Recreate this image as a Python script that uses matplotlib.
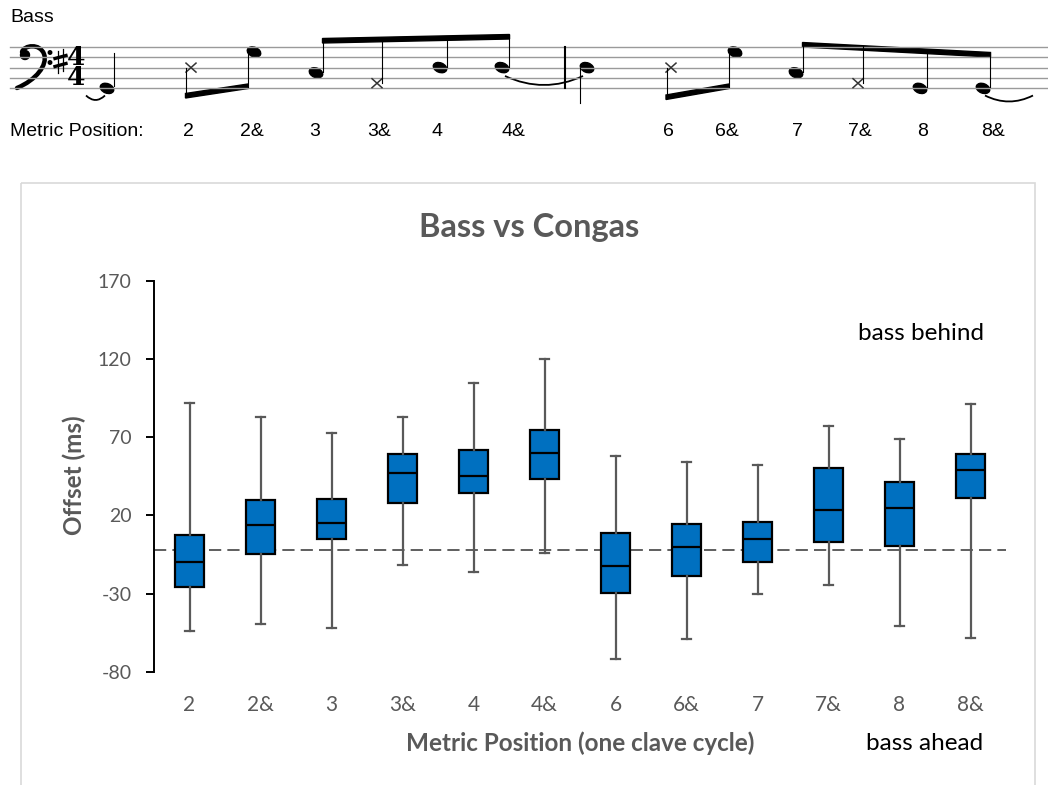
import matplotlib
matplotlib.use("Agg")
import matplotlib.pyplot as plt
from matplotlib.patches import Ellipse, Polygon, Rectangle, PathPatch
from matplotlib.path import Path

plt.rcParams['axes.unicode_minus'] = False

# data
categories = ['2', '2&', '3', '3&', '4', '4&', '6', '6&', '7', '7&', '8', '8&']
whisker_hi = [92, 83, 73, 83, 105, 120, 58, 54, 52, 77, 69, 91]
upper_q = [7.5, 30, 30.5, 59, 62, 74.5, 9, 14.5, 15.5, 50.5, 41.5, 59]
medians = [-9.5, 14, 15, 47, 45.5, 60, -12.5, 0, 5, 23.5, 24.5, 49]
lower_q = [-25.5, -4.5, 5, 28, 34.5, 43.5, -29.5, -18.5, -10, 3, 0.5, 31]
whisker_lo = [-54, -49.5, -52, -11.5, -16, -4, -72, -59, -30, -24.5, -51, -58.5]
ref_level = -2
y_ticks = [170, 120, 70, 20, -30, -80]

# notation row labels
score_labels = ['2', '2&', '3', '3&', '4', '4&', '6', '6&', '7', '7&', '8', '8&']
score_label_x = [188, 252, 315, 379, 437, 513, 668, 727, 797, 860, 923, 993]

grey = '#595959'
chart_font = 'Lato'

fig = plt.figure(figsize=(10.48, 7.85), dpi=100)

# ---------- top: bass notation, drawn in pixel coords ----------
top = fig.add_axes([0, 0, 1, 1])
top.set_xlim(0, 1048)
top.set_ylim(785, 0)
top.axis('off')

line_y = [46.7, 57.2, 67.6, 78.0, 88.4]
for y in line_y:
    top.plot([10, 1048], [y, y], color='#9a9a9a', lw=1.0)

def step_y(s):
    return 88.4 - s * 5.2

# bass clef
clef = Path([(22, 52), (24, 45), (40, 43), (44, 54), (48, 65), (36, 80), (17, 88)],
            [Path.MOVETO, Path.CURVE4, Path.CURVE4, Path.CURVE4, Path.CURVE4, Path.CURVE4, Path.CURVE4])
top.add_patch(PathPatch(clef, fill=False, lw=3.2, color='black', capstyle='round'))
top.add_patch(Ellipse((25, 55), 9, 9, color='black'))
top.add_patch(Ellipse((50, 52.5), 3.5, 3.5, color='black'))
top.add_patch(Ellipse((50, 62.5), 3.5, 3.5, color='black'))

# sharp
top.plot([58, 58], [51, 73], color='black', lw=0.9)
top.plot([63, 63], [49, 71], color='black', lw=0.9)
top.plot([55, 66], [58.5, 55.5], color='black', lw=2.4)
top.plot([55, 66], [66.5, 63.5], color='black', lw=2.4)

top.text(76, 67.5, '4\n4', fontsize=19, family='DejaVu Serif', weight='bold', ha='center',
         va='center', linespacing=0.78)

# notes: x, staff step, kind
notes = [(107, 0, 'h'), (191, 4, 'x'), (254, 7, 'h'), (316, 3, 'h'), (377, 1, 'x'),
         (440, 4, 'h'), (502, 4, 'h'), (587, 4, 'h'), (671, 4, 'x'), (735, 7, 'h'),
         (796, 3, 'h'), (858, 1, 'x'), (920, 0, 'h'), (983, 0, 'h')]
for x, s, kind in notes:
    y = step_y(s)
    if kind == 'h':
        top.add_patch(Ellipse((x, y), 14, 9.5, angle=22, color='black'))
    else:
        top.plot([x - 5, x + 5], [y - 4.5, y + 4.5], color='#333333', lw=1.1)
        top.plot([x - 5, x + 5], [y + 4.5, y - 4.5], color='#333333', lw=1.1)

stems = [(114, 86, 52.7), (186, 68, 96.7), (247.5, 51, 87.3), (323, 72, 39.3),
         (382, 83, 38.2), (446.5, 67, 36.7), (509, 67, 35), (580, 68, 103.3),
         (666.5, 68, 98), (728.5, 51, 87.3), (803, 72, 43.3), (863, 83, 46.3),
         (927, 87, 49.6), (990, 87, 53.3)]
for x, y0, y1 in stems:
    top.plot([x, x], [y0, y1], color='black', lw=0.8)

def beam(x0, y0, x1, y1, t=4.5):
    top.add_patch(Polygon([(x0, y0), (x1, y1), (x1, y1 - t if y1 > 60 else y1 + t),
                           (x0, y0 - t if y0 > 60 else y0 + t)], closed=True, color='black'))

beam(185.5, 98, 248, 88.5)
beam(322.5, 38.5, 509.5, 34.5)
beam(666, 99.5, 729, 88.5)
beam(802.5, 42.5, 990.5, 52.5)

top.plot([564.5, 564.5], [46.7, 88.4], color='black', lw=1.5)

def tie(x0, x1, y, sag):
    p = Path([(x0, y), ((x0 + x1) / 2, y + sag), (x1, y)], [Path.MOVETO, Path.CURVE3, Path.CURVE3])
    top.add_patch(PathPatch(p, fill=False, lw=1.3, color='black'))

tie(86, 105, 95.5, 9)
tie(505, 583, 76, 18)
tie(985, 1033, 95.5, 12)

top.text(10, 18, 'Bass', fontsize=14, family='Liberation Sans', va='center')
top.text(10, 131, 'Metric Position:', fontsize=14, family='Liberation Sans', va='center')
for lab, x in zip(score_labels, score_label_x):
    top.text(x, 131, lab, fontsize=14, family='Liberation Sans', ha='center', va='center')

# chart frame
top.add_patch(Rectangle((21, 182.5), 1014, 620, fill=False, edgecolor='#d9d9d9', lw=1.2))

# ---------- box plot ----------
ax = fig.add_axes([154 / 1048, 113.3 / 785, 852 / 1048, 390.7 / 785])
ax.set_facecolor('none')
stats = []
for i, lab in enumerate(categories):
    stats.append(dict(label=lab, med=medians[i], q1=lower_q[i], q3=upper_q[i],
                      whislo=whisker_lo[i], whishi=whisker_hi[i]))
ax.axhline(ref_level, color='#333333', lw=1.1, dashes=(8, 4), zorder=1)
ax.bxp(stats, positions=range(len(categories)), widths=0.395, capwidths=0.14,
       showfliers=False, patch_artist=True,
       boxprops=dict(facecolor='#0070C0', edgecolor='black', linewidth=1.6),
       medianprops=dict(color='black', linewidth=1.6),
       whiskerprops=dict(color=grey, linewidth=1.6),
       capprops=dict(color=grey, linewidth=1.6), zorder=3)
ax.set_xlim(-0.5, 11.5)
ax.set_ylim(-80, 170)
ax.set_yticks(y_ticks)
ax.set_xticks(range(len(categories)))
ax.set_xticklabels(categories)
for sp in ['top', 'right', 'bottom']:
    ax.spines[sp].set_visible(False)
ax.spines['left'].set_linewidth(1.4)
ax.tick_params(axis='y', length=6, width=1.4, labelsize=14, labelcolor=grey, pad=10)
ax.tick_params(axis='x', length=0, labelsize=15, labelcolor=grey, pad=17)
for t in ax.get_xticklabels() + ax.get_yticklabels():
    t.set_family(chart_font)

fig.text(529 / 1048, 1 - 228 / 785, 'Bass vs Congas', fontsize=23.5, weight='bold', color=grey,
         family=chart_font, ha='center', va='center')
fig.text(74 / 1048, 1 - 475 / 785, 'Offset (ms)', fontsize=17.5, weight='bold', color=grey,
         family=chart_font, ha='center', va='center', rotation=90)
fig.text(580 / 1048, 1 - 743 / 785, 'Metric Position (one clave cycle)', fontsize=17.5, weight='bold',
         color=grey, family=chart_font, ha='center', va='center')
fig.text(921 / 1048, 1 - 333 / 785, 'bass behind', fontsize=17.5, color='black',
         family=chart_font, ha='center', va='center')
fig.text(925 / 1048, 1 - 743 / 785, 'bass ahead', fontsize=17.5, color='black',
         family=chart_font, ha='center', va='center')

fig.savefig('out.png', dpi=100)
